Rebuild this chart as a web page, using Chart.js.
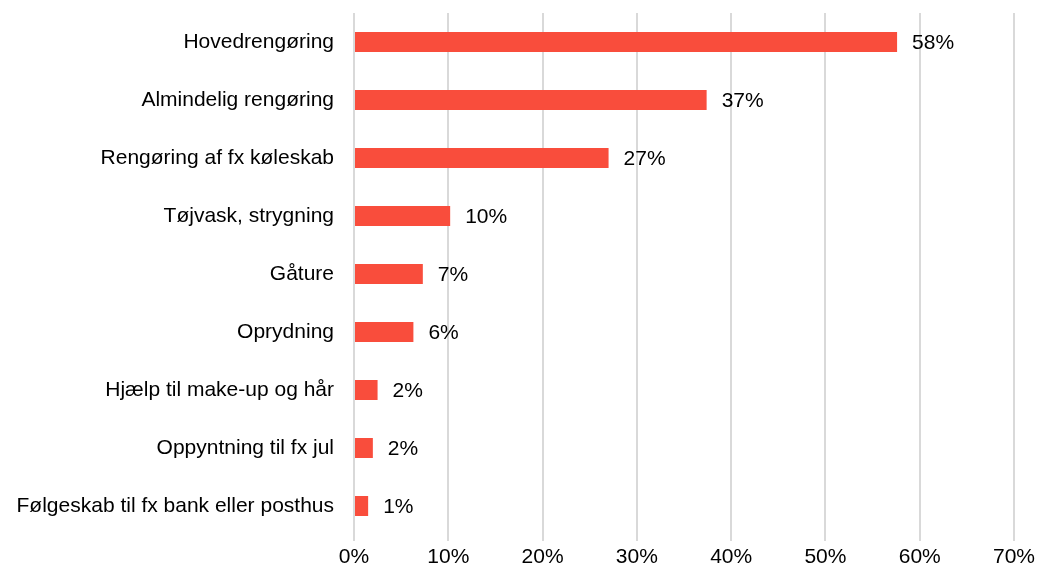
<!DOCTYPE html>
<html>
<head>
<meta charset="utf-8">
<script src="https://cdn.jsdelivr.net/npm/chart.js@4"></script>
<style>
  html, body { margin: 0; padding: 0; background: #fff; }
  #wrap { width: 1038px; height: 569px; }
</style>
</head>
<body>
<div id="wrap"><canvas id="chart"></canvas></div>
<script>
const kategorier = [
    "Hovedrengøring",
    "Almindelig rengøring",
    "Rengøring af fx køleskab",
    "Tøjvask, strygning",
    "Gåture",
    "Oprydning",
    "Hjælp til make-up og hår",
    "Oppyntning til fx jul",
    "Følgeskab til fx bank eller posthus"
];
const andele = [57.6, 37.4, 27.0, 10.2, 7.3, 6.3, 2.5, 2.0, 1.5];
const etiketter = ["58%", "37%", "27%", "10%", "7%", "6%", "2%", "2%", "1%"];
const xTicks = [0, 10, 20, 30, 40, 50, 60, 70];

const FONT = "'Liberation Sans', Arial, sans-serif";
const FS = 21;

// værdi-etiketter efter hver søjle
const labelPlugin = {
    id: "barLabels",
    afterDatasetsDraw(chart) {
        const ctx = chart.ctx;
        const meta = chart.getDatasetMeta(0);
        ctx.save();
        ctx.font = FS + "px " + FONT;
        ctx.fillStyle = "#000";
        ctx.textAlign = "left";
        ctx.textBaseline = "middle";
        meta.data.forEach((bar, i) => {
            ctx.fillText(etiketter[i], bar.x + 15, bar.y + 1);
        });
        ctx.restore();
    }
};

new Chart(document.getElementById("chart"), {
    type: "bar",
    data: {
        labels: kategorier,
        datasets: [{
            data: andele,
            backgroundColor: "#F94D3C",
            borderWidth: 0,
            barPercentage: 0.69,
            categoryPercentage: 0.5
        }]
    },
    options: {
        indexAxis: "y",
        responsive: true,
        maintainAspectRatio: false,
        animation: false,
        layout: { padding: { top: 13, right: 24, left: 0, bottom: 0 } },
        plugins: {
            legend: { display: false },
            tooltip: { enabled: false }
        },
        scales: {
            x: {
                min: 0,
                max: 70,
                afterBuildTicks: s => { s.ticks = xTicks.map(v => ({ value: v })); },
                grid: { color: "#d9d9d9", lineWidth: 2, tickLength: 6 },
                border: { display: false },
                ticks: {
                    color: "#000",
                    font: { family: FONT, size: FS },
                    padding: 4,
                    maxRotation: 0,
                    callback: v => v + "%"
                },
                afterFit: s => {
                    s.height = 34;
                    s.paddingLeft = 0;
                    s.paddingRight = 0;
                }
            },
            y: {
                grid: { display: false, drawTicks: false },
                border: { display: false },
                ticks: {
                    color: "#000",
                    font: { family: FONT, size: FS },
                    padding: 20
                },
                afterFit: s => {
                    s.width = 354;
                    s.paddingTop = 0;
                    s.paddingBottom = 0;
                }
            }
        }
    },
    plugins: [labelPlugin]
});
</script>
</body>
</html>
